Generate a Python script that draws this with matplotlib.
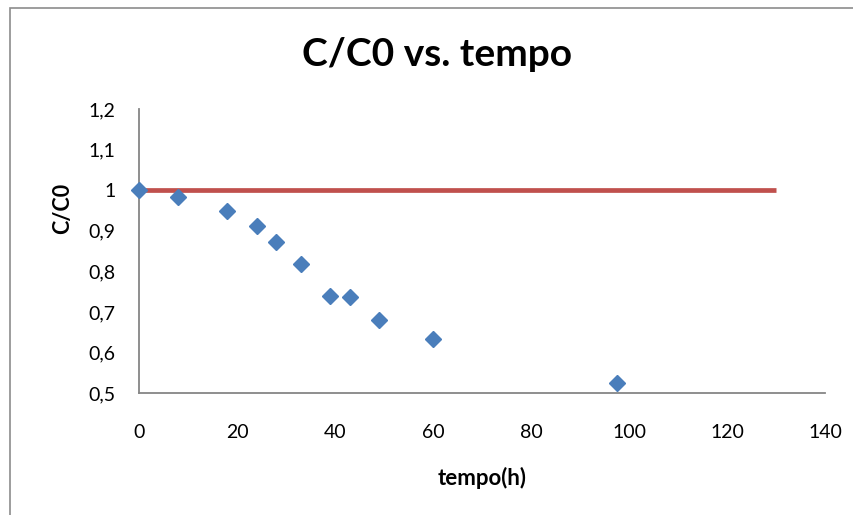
import matplotlib.pyplot as plt
from matplotlib.patches import Rectangle
from matplotlib.ticker import FuncFormatter

# dados
tempo = [0, 8, 18, 24, 28, 33, 39, 43, 49, 60, 97.5]
c_c0 = [1.0, 0.983, 0.950, 0.912, 0.873, 0.819, 0.740, 0.736, 0.681, 0.634, 0.525]
ref_x = [0, 130]
ref_y = [1, 1]

plt.rcParams['font.family'] = ['Lato', 'DejaVu Sans']

fig = plt.figure(figsize=(8.54, 5.15), dpi=100)
ax = fig.add_axes([0.1628, 0.2363, 0.966 - 0.1628, 0.7883 - 0.2363])

# borda da área do gráfico
fig.patches.append(Rectangle((10 / 854, -0.1), 1.2, 1 - 8 / 515 + 0.1, transform=fig.transFigure,
                             fill=False, edgecolor='#8c8c8c', linewidth=1.2))

ax.plot(ref_x, ref_y, color='#C0504D', linewidth=3.4, zorder=2, solid_capstyle='butt')
ax.plot(tempo, c_c0, linestyle='none', marker='D', markersize=8.5, color='#4A7EBB',
        markeredgecolor='#4A7EBB', zorder=3, clip_on=False)

ax.set_xlim(0, 140)
ax.set_ylim(0.5, 1.2)
ax.set_xticks(range(0, 141, 20))
ax.set_yticks([0.5, 0.6, 0.7, 0.8, 0.9, 1.0, 1.1, 1.2])
ax.yaxis.set_major_formatter(FuncFormatter(lambda v, p: f'{v:g}'.replace('.', ',')))

ax.spines['top'].set_visible(False)
ax.spines['right'].set_visible(False)
ax.spines['left'].set_color('#868686')
ax.spines['bottom'].set_color('#868686')
ax.spines['left'].set_linewidth(1.3)
ax.spines['bottom'].set_linewidth(1.3)
ax.tick_params(length=0, labelsize=14, colors='black')
ax.tick_params(axis='x', pad=22)
ax.tick_params(axis='y', pad=17)

fig.text(0.512, 0.895, 'C/C0 vs. tempo', ha='center', va='center', fontsize=28, fontweight='bold')
ax.set_xlabel('tempo(h)', fontsize=16, fontweight='bold', labelpad=19)
fig.text(63 / 854, 1 - 208.5 / 515, 'C/C0', rotation=90, ha='center', va='center',
         fontsize=15.5, fontweight='bold')

plt.savefig('out.png', dpi=100)
